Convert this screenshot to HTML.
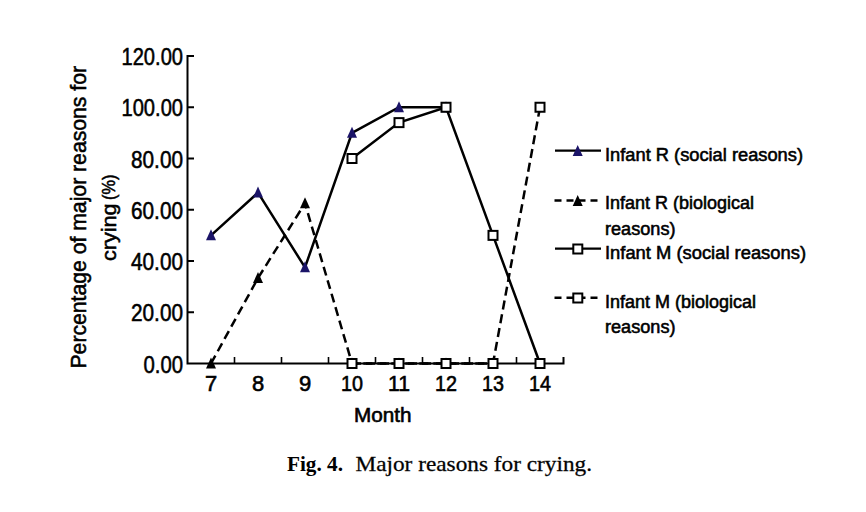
<!DOCTYPE html>
<html><head><meta charset="utf-8"><style>
html,body{margin:0;padding:0;background:#fff;}
svg{display:block;}
</style></head><body>
<svg width="866" height="512" viewBox="0 0 866 512">
<rect width="866" height="512" fill="#fff"/>
<path d="M194,56 H187.5 V363.5 H563.5 V357" fill="none" stroke="#000" stroke-width="2"/>
<path d="M187.5,312.25 H194" stroke="#000" stroke-width="2"/>
<path d="M187.5,261.00 H194" stroke="#000" stroke-width="2"/>
<path d="M187.5,209.75 H194" stroke="#000" stroke-width="2"/>
<path d="M187.5,158.50 H194" stroke="#000" stroke-width="2"/>
<path d="M187.5,107.25 H194" stroke="#000" stroke-width="2"/>
<path d="M234.50,363.5 V357" stroke="#000" stroke-width="1.6"/>
<path d="M281.50,363.5 V357" stroke="#000" stroke-width="1.6"/>
<path d="M328.50,363.5 V357" stroke="#000" stroke-width="1.6"/>
<path d="M375.50,363.5 V357" stroke="#000" stroke-width="1.6"/>
<path d="M422.50,363.5 V357" stroke="#000" stroke-width="1.6"/>
<path d="M469.50,363.5 V357" stroke="#000" stroke-width="1.6"/>
<path d="M516.50,363.5 V357" stroke="#000" stroke-width="1.6"/>
<polyline points="211.00,235.38 258.00,192.66 305.00,267.41 352.00,132.88 399.00,107.25 446.00,107.25" fill="none" stroke="#000" stroke-width="2.5"/>
<path d="M211.00,229.32 L216.00,240.32 L206.00,240.32 Z" fill="#1b1468"/>
<path d="M258.00,186.61 L263.00,197.61 L253.00,197.61 Z" fill="#1b1468"/>
<path d="M305.00,261.36 L310.00,272.36 L300.00,272.36 Z" fill="#1b1468"/>
<path d="M352.00,126.83 L357.00,137.82 L347.00,137.82 Z" fill="#1b1468"/>
<path d="M399.00,101.20 L404.00,112.20 L394.00,112.20 Z" fill="#1b1468"/>
<path d="M446.00,101.20 L451.00,112.20 L441.00,112.20 Z" fill="#1b1468"/>
<polyline points="211.00,363.50 258.00,278.09 305.00,203.34 352.00,363.50 399.00,363.50 446.00,363.50 493.00,363.50" fill="none" stroke="#000" stroke-width="2.5" stroke-dasharray="9 5"/>
<path d="M211.00,357.45 L216.00,368.45 L206.00,368.45 Z" fill="#000"/>
<path d="M258.00,272.04 L263.00,283.04 L253.00,283.04 Z" fill="#000"/>
<path d="M305.00,197.29 L310.00,208.29 L300.00,208.29 Z" fill="#000"/>
<path d="M352.00,357.45 L357.00,368.45 L347.00,368.45 Z" fill="#000"/>
<path d="M399.00,357.45 L404.00,368.45 L394.00,368.45 Z" fill="#000"/>
<path d="M446.00,357.45 L451.00,368.45 L441.00,368.45 Z" fill="#000"/>
<path d="M493.00,357.45 L498.00,368.45 L488.00,368.45 Z" fill="#000"/>
<polyline points="352.00,158.50 399.00,122.62 446.00,107.25 493.00,235.38 540.00,363.50" fill="none" stroke="#000" stroke-width="2.5"/>
<rect x="347.50" y="154.00" width="9" height="9" fill="#fff" stroke="#000" stroke-width="2"/>
<rect x="394.50" y="118.12" width="9" height="9" fill="#fff" stroke="#000" stroke-width="2"/>
<rect x="441.50" y="102.75" width="9" height="9" fill="#fff" stroke="#000" stroke-width="2"/>
<rect x="488.50" y="230.88" width="9" height="9" fill="#fff" stroke="#000" stroke-width="2"/>
<rect x="535.50" y="359.00" width="9" height="9" fill="#fff" stroke="#000" stroke-width="2"/>
<polyline points="352.00,363.50 399.00,363.50 446.00,363.50 493.00,363.50 540.00,107.25" fill="none" stroke="#000" stroke-width="2.5" stroke-dasharray="9 5"/>
<rect x="347.50" y="359.00" width="9" height="9" fill="#fff" stroke="#000" stroke-width="2"/>
<rect x="394.50" y="359.00" width="9" height="9" fill="#fff" stroke="#000" stroke-width="2"/>
<rect x="441.50" y="359.00" width="9" height="9" fill="#fff" stroke="#000" stroke-width="2"/>
<rect x="488.50" y="359.00" width="9" height="9" fill="#fff" stroke="#000" stroke-width="2"/>
<rect x="535.50" y="102.75" width="9" height="9" fill="#fff" stroke="#000" stroke-width="2"/>
<text x="143.50" y="372.50" font-family="Liberation Sans, sans-serif" stroke="#000" stroke-width="0.55" font-size="23" textLength="39.5" lengthAdjust="spacingAndGlyphs">0.00</text>
<text x="131.00" y="321.25" font-family="Liberation Sans, sans-serif" stroke="#000" stroke-width="0.55" font-size="23" textLength="52" lengthAdjust="spacingAndGlyphs">20.00</text>
<text x="131.00" y="270.00" font-family="Liberation Sans, sans-serif" stroke="#000" stroke-width="0.55" font-size="23" textLength="52" lengthAdjust="spacingAndGlyphs">40.00</text>
<text x="131.00" y="218.75" font-family="Liberation Sans, sans-serif" stroke="#000" stroke-width="0.55" font-size="23" textLength="52" lengthAdjust="spacingAndGlyphs">60.00</text>
<text x="131.00" y="167.50" font-family="Liberation Sans, sans-serif" stroke="#000" stroke-width="0.55" font-size="23" textLength="52" lengthAdjust="spacingAndGlyphs">80.00</text>
<text x="121.50" y="116.25" font-family="Liberation Sans, sans-serif" stroke="#000" stroke-width="0.55" font-size="23" textLength="61.5" lengthAdjust="spacingAndGlyphs">100.00</text>
<text x="121.50" y="65.00" font-family="Liberation Sans, sans-serif" stroke="#000" stroke-width="0.55" font-size="23" textLength="61.5" lengthAdjust="spacingAndGlyphs">120.00</text>
<text x="211.00" y="391.3" font-family="Liberation Sans, sans-serif" stroke="#000" stroke-width="0.6" font-size="22" text-anchor="middle">7</text>
<text x="258.00" y="391.3" font-family="Liberation Sans, sans-serif" stroke="#000" stroke-width="0.6" font-size="22" text-anchor="middle">8</text>
<text x="305.00" y="391.3" font-family="Liberation Sans, sans-serif" stroke="#000" stroke-width="0.6" font-size="22" text-anchor="middle">9</text>
<text x="341.00" y="391.3" font-family="Liberation Sans, sans-serif" stroke="#000" stroke-width="0.6" font-size="22" textLength="22" lengthAdjust="spacingAndGlyphs">10</text>
<text x="388.00" y="391.3" font-family="Liberation Sans, sans-serif" stroke="#000" stroke-width="0.6" font-size="22" textLength="22" lengthAdjust="spacingAndGlyphs">11</text>
<text x="435.00" y="391.3" font-family="Liberation Sans, sans-serif" stroke="#000" stroke-width="0.6" font-size="22" textLength="22" lengthAdjust="spacingAndGlyphs">12</text>
<text x="482.00" y="391.3" font-family="Liberation Sans, sans-serif" stroke="#000" stroke-width="0.6" font-size="22" textLength="22" lengthAdjust="spacingAndGlyphs">13</text>
<text x="529.00" y="391.3" font-family="Liberation Sans, sans-serif" stroke="#000" stroke-width="0.6" font-size="22" textLength="22" lengthAdjust="spacingAndGlyphs">14</text>
<text x="382.7" y="422.2" font-family="Liberation Sans, sans-serif" stroke="#000" stroke-width="0.6" font-size="19.5" text-anchor="middle" textLength="57.5" lengthAdjust="spacingAndGlyphs">Month</text>
<text transform="translate(86.4,368.5) rotate(-90)" font-family="Liberation Sans, sans-serif" stroke="#000" stroke-width="0.55" font-size="21.8" textLength="302.5" lengthAdjust="spacingAndGlyphs">Percentage of major reasons for</text>
<text transform="translate(115.8,261) rotate(-90)" font-family="Liberation Sans, sans-serif" stroke="#000" stroke-width="0.55" font-size="20" textLength="57.5" lengthAdjust="spacingAndGlyphs">crying</text>
<text transform="translate(114.5,200) rotate(-90)" font-family="Liberation Sans, sans-serif" stroke="#000" stroke-width="0.55" font-size="19" textLength="25.5" lengthAdjust="spacingAndGlyphs">(%)</text>
<path d="M555,150.6 H601" stroke="#000" stroke-width="2.2"/><path d="M577.70,144.95 L582.70,155.95 L572.70,155.95 Z" fill="#1b1468"/>
<text x="605" y="160.5" font-family="Liberation Sans, sans-serif" stroke="#000" stroke-width="0.55" font-size="17.5" textLength="198" lengthAdjust="spacingAndGlyphs">Infant R (social reasons)</text>
<path d="M554.5,200.5 H598" stroke="#000" stroke-width="2.4" stroke-dasharray="7 5"/><path d="M577.70,194.95 L582.70,205.95 L572.70,205.95 Z" fill="#000"/>
<text x="605" y="209.3" font-family="Liberation Sans, sans-serif" stroke="#000" stroke-width="0.55" font-size="17.5" textLength="149" lengthAdjust="spacingAndGlyphs">Infant R (biological</text>
<text x="605" y="234.8" font-family="Liberation Sans, sans-serif" stroke="#000" stroke-width="0.55" font-size="17.5" textLength="70.5" lengthAdjust="spacingAndGlyphs">reasons)</text>
<path d="M555,248.6 H601" stroke="#000" stroke-width="2.2"/><rect x="573.30" y="244.50" width="9" height="9" fill="#fff" stroke="#000" stroke-width="2"/>
<text x="605" y="259" font-family="Liberation Sans, sans-serif" stroke="#000" stroke-width="0.55" font-size="17.5" textLength="201" lengthAdjust="spacingAndGlyphs">Infant M (social reasons)</text>
<path d="M554.5,297.7 H598" stroke="#000" stroke-width="2.4" stroke-dasharray="7 5"/><rect x="573.30" y="293.50" width="9" height="9" fill="#fff" stroke="#000" stroke-width="2"/>
<text x="605" y="307.7" font-family="Liberation Sans, sans-serif" stroke="#000" stroke-width="0.55" font-size="17.5" textLength="151" lengthAdjust="spacingAndGlyphs">Infant M (biological</text>
<text x="605" y="332.7" font-family="Liberation Sans, sans-serif" stroke="#000" stroke-width="0.55" font-size="17.5" textLength="70.5" lengthAdjust="spacingAndGlyphs">reasons)</text>
<text x="287" y="471" font-family="Liberation Serif, serif" font-size="22" font-weight="bold" textLength="56" lengthAdjust="spacingAndGlyphs">Fig. 4.</text><text x="355.5" y="471" font-family="Liberation Serif, serif" stroke="#111" stroke-width="0.3" font-size="22" textLength="236.5" lengthAdjust="spacingAndGlyphs">Major reasons for crying.</text>
</svg>
</body></html>
